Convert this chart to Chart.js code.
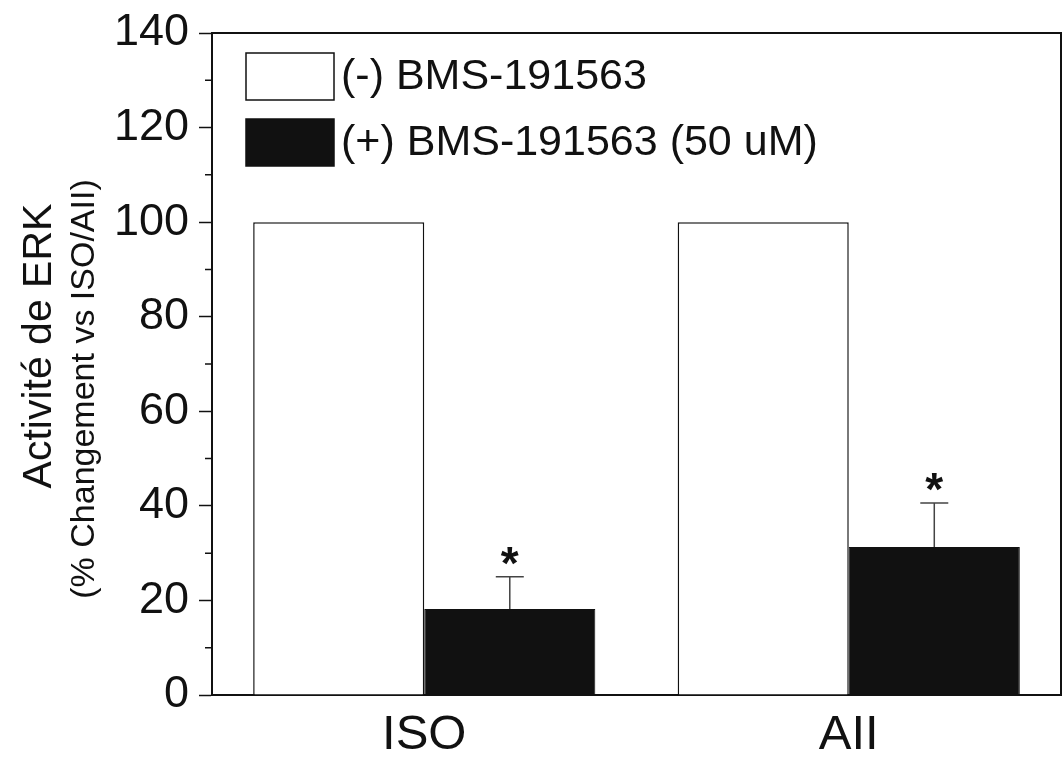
<!DOCTYPE html>
<html>
<head>
<meta charset="utf-8">
<script src="https://cdn.jsdelivr.net/npm/chart.js@4.4.1/dist/chart.umd.min.js"></script>
<style>
  html, body { margin: 0; background: #fff; }
  canvas { display: block; }
</style>
</head>
<body>
<canvas id="erkChart" width="1064" height="758"></canvas>
<script>
// data
const categories = ['ISO', 'AII'];
const withoutBms = [100, 100];
const withBms = [18.2, 31.3];
const withBmsErr = [6.8, 9.3];
const signif = ['*', '*'];
const yTicks = [0, 20, 40, 60, 80, 100, 120, 140];
const yMinorTicks = [10, 30, 50, 70, 90, 110, 130];
const seriesLabels = ['(-) BMS-191563', '(+) BMS-191563 (50 uM)'];
const yTitle = ['Activité de ERK', '(% Changement vs ISO/AII)'];

const FONT = '"Liberation Sans", Arial, Helvetica, sans-serif';

// frame, minor ticks, y title, legend, error bars
const figureExtras = {
  id: 'figureExtras',
  afterDatasetsDraw(chart) {
    const { ctx, scales: { y } } = chart;
    const meta = chart.getDatasetMeta(1);
    ctx.save();
    meta.data.forEach((bar, i) => {
      const top = y.getPixelForValue(withBms[i] + withBmsErr[i]);
      ctx.strokeStyle = '#444';
      ctx.lineWidth = 1.5;
      ctx.beginPath();
      ctx.moveTo(bar.x, bar.y);
      ctx.lineTo(bar.x, top);
      ctx.moveTo(bar.x - 14, top);
      ctx.lineTo(bar.x + 14, top);
      ctx.stroke();
      ctx.fillStyle = '#111';
      ctx.font = 'bold 46px ' + FONT;
      ctx.textAlign = 'center';
      ctx.textBaseline = 'alphabetic';
      ctx.fillText(signif[i], bar.x, top + 2);
    });
    ctx.restore();
  },
  afterDraw(chart) {
    const { ctx, chartArea: a, scales: { y } } = chart;
    ctx.save();
    ctx.strokeStyle = '#111';
    ctx.lineWidth = 2;
    // top + right frame
    ctx.beginPath();
    ctx.moveTo(a.left, a.top);
    ctx.lineTo(a.right, a.top);
    ctx.lineTo(a.right, a.bottom);
    ctx.stroke();
    // minor ticks
    ctx.lineWidth = 1.5;
    ctx.beginPath();
    yMinorTicks.forEach(v => {
      const py = y.getPixelForValue(v);
      ctx.moveTo(a.left - 7, py);
      ctx.lineTo(a.left, py);
    });
    ctx.stroke();

    // y title, two lines of different size
    const midY = (a.top + a.bottom) / 2;
    ctx.fillStyle = '#111';
    ctx.textAlign = 'center';
    ctx.textBaseline = 'middle';
    ctx.save();
    ctx.translate(40, midY - 18);
    ctx.rotate(-Math.PI / 2);
    ctx.font = '41px ' + FONT;
    ctx.fillText(yTitle[0], 0, 0);
    ctx.restore();
    ctx.save();
    ctx.translate(85, midY + 25);
    ctx.rotate(-Math.PI / 2);
    ctx.font = '34px ' + FONT;
    ctx.fillText(yTitle[1], 0, 0);
    ctx.restore();

    // legend inside the plot
    const boxX = a.left + 34, boxW = 88, boxH = 47;
    const rows = [53, 119];
    chart.data.datasets.forEach((ds, i) => {
      const by = rows[i];
      ctx.fillStyle = ds.backgroundColor;
      ctx.fillRect(boxX, by, boxW, boxH);
      ctx.strokeStyle = '#111';
      ctx.lineWidth = 1.5;
      ctx.strokeRect(boxX, by, boxW, boxH);
      ctx.fillStyle = '#111';
      ctx.font = '43px ' + FONT;
      ctx.textAlign = 'left';
      ctx.textBaseline = 'middle';
      ctx.fillText(ds.label, boxX + boxW + 7, by + boxH / 2 + 1);
    });
    ctx.restore();
  }
};

new Chart(document.getElementById('erkChart'), {
  type: 'bar',
  data: {
    labels: categories,
    datasets: [
      {
        label: seriesLabels[0],
        data: withoutBms,
        backgroundColor: '#ffffff',
        borderColor: '#111',
        borderWidth: 1.5,
        borderSkipped: 'bottom',
      },
      {
        label: seriesLabels[1],
        data: withBms,
        backgroundColor: '#111111',
        borderColor: '#111',
        borderWidth: 1,
        borderSkipped: 'bottom',
      }
    ]
  },
  options: {
    responsive: false,
    animation: false,
    layout: { padding: { top: 33, right: 3, left: 0, bottom: 0 } },
    datasets: { bar: { categoryPercentage: 0.806, barPercentage: 1.0 } },
    plugins: {
      legend: { display: false },
      tooltip: { enabled: false }
    },
    scales: {
      x: {
        grid: { display: false, drawTicks: false },
        border: { display: true, color: '#111', width: 2 },
        ticks: { color: '#111', padding: 11, font: { family: FONT, size: 49 } },
        afterFit: s => { s.height = 63; }
      },
      y: {
        min: 0, max: 140,
        afterBuildTicks: s => { s.ticks = yTicks.map(v => ({ value: v })); },
        grid: { drawOnChartArea: false, drawTicks: true, tickLength: 13, tickColor: '#111', tickWidth: 1.5 },
        border: { display: true, color: '#111', width: 2 },
        ticks: { color: '#111', padding: 10, font: { family: FONT, size: 45, lineHeight: 1 } },
        afterFit: s => { s.width = 212; }
      }
    }
  },
  plugins: [figureExtras]
});
</script>
</body>
</html>
